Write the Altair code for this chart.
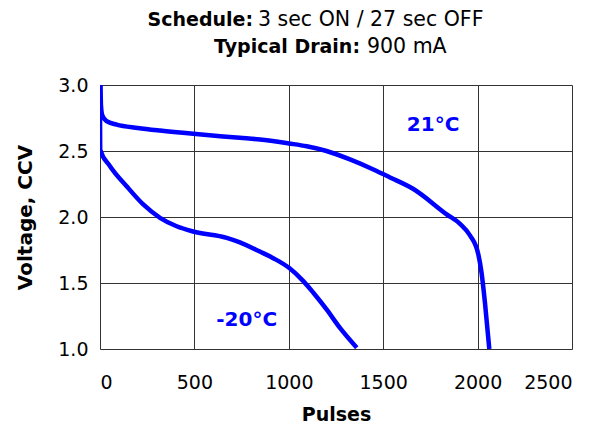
import altair as alt
import pandas as pd

# 21°C series
x21 = [3, 5, 12, 35, 88, 200, 318, 494, 741, 847, 1001, 1095, 1200, 1324, 1448, 1536, 1660, 1836, 1907, 1960, 2004, 2021, 2039, 2062]
v21 = [3.0, 2.85, 2.77, 2.726, 2.70, 2.675, 2.655, 2.63, 2.60, 2.587, 2.557, 2.536, 2.50, 2.436, 2.36, 2.30, 2.212, 2.02, 1.948, 1.86, 1.716, 1.577, 1.35, 1.0]

# -20°C series
xm20 = [0, 1, 53, 141, 229, 318, 406, 494, 671, 741, 847, 918, 1001, 1077, 1130, 1200, 1271, 1360]
vm20 = [2.78, 2.51, 2.385, 2.233, 2.095, 1.994, 1.93, 1.89, 1.842, 1.808, 1.738, 1.688, 1.615, 1.514, 1.426, 1.30, 1.16, 1.01]

labels = ["21°C", "-20°C"]
label_x = [1764, 777]
label_v = [2.70, 1.223]

FONT = "DejaVu Sans"
FS = 19
BLUE = "#0000FF"

rows = []
for i, (a, b) in enumerate(zip(x21, v21)):
    rows.append({"series": "21°C", "pulses": a, "volts": b, "ord": i})
for i, (a, b) in enumerate(zip(xm20, vm20)):
    rows.append({"series": "-20°C", "pulses": a, "volts": b, "ord": i})
df = pd.DataFrame(rows)

lab_df = pd.DataFrame({"label": labels, "pulses": label_x, "volts": label_v})

xscale = alt.Scale(domain=[0, 2500], nice=False)
yscale = alt.Scale(domain=[1.0, 3.0], nice=False)

lines = alt.Chart(df).mark_line(color=BLUE, strokeWidth=4.5, clip=True, interpolate="monotone").encode(
    x=alt.X("pulses:Q", scale=xscale,
            axis=alt.Axis(title="Pulses", values=[0, 500, 1000, 1500, 2000, 2500],
                          format="d", grid=True, gridColor="#333333", gridWidth=1,
                          ticks=False, domain=False, labelPadding=24,
                          labelFont=FONT, labelFontSize=FS, labelColor="#000",
                          titleFont=FONT, titleFontSize=FS, titleFontWeight="bold",
                          titleColor="#000", titleY=65, titleBaseline="middle")),
    y=alt.Y("volts:Q", scale=yscale,
            axis=alt.Axis(title="Voltage, CCV", values=[1.0, 1.5, 2.0, 2.5, 3.0],
                          format=".1f", grid=True, gridColor="#333333", gridWidth=1,
                          ticks=False, domain=False, labelPadding=12,
                          labelFont=FONT, labelFontSize=FS, labelColor="#000",
                          titleFont=FONT, titleFontSize=20, titleFontWeight="bold",
                          titleColor="#000", titleX=-75, titleBaseline="middle")),
    detail="series:N",
    order="ord:Q",
)

ann = alt.Chart(lab_df).mark_text(color=BLUE, font=FONT, fontSize=20, fontWeight="bold").encode(
    x=alt.X("pulses:Q", scale=xscale),
    y=alt.Y("volts:Q", scale=yscale),
    text="label:N",
)

title_df = pd.DataFrame({
    "t": ["Schedule:", "3 sec ON / 27 sec OFF", "Typical Drain:", "900 mA"],
    "px": [153, 158, 260, 267],
    "py": [-59, -59, -32, -32],
    "w": ["bold", "normal", "bold", "normal"],
    "al": ["right", "left", "right", "left"],
    "fs": [19, 20.5, 19, 20.5],
})

def title_part(i):
    r = title_df.iloc[[i]]
    return alt.Chart(r).mark_text(
        font=FONT, fontSize=float(r["fs"].iloc[0]), fontWeight=r["w"].iloc[0],
        align=r["al"].iloc[0], baseline="alphabetic", color="#000"
    ).encode(x=alt.value(float(r["px"].iloc[0])), y=alt.value(float(r["py"].iloc[0])), text="t:N")

titles = [title_part(i) for i in range(4)]

chart = alt.layer(lines, ann, *titles).properties(
    width=472, height=264,
    autosize=alt.AutoSizeParams(type="none"),
    padding={"left": 92, "top": 77, "right": 28, "bottom": 77},
).configure_view(stroke="#888888", strokeWidth=1.5).configure(background="white")

chart.save("out.html", embed_options={"renderer": "svg", "actions": False})
